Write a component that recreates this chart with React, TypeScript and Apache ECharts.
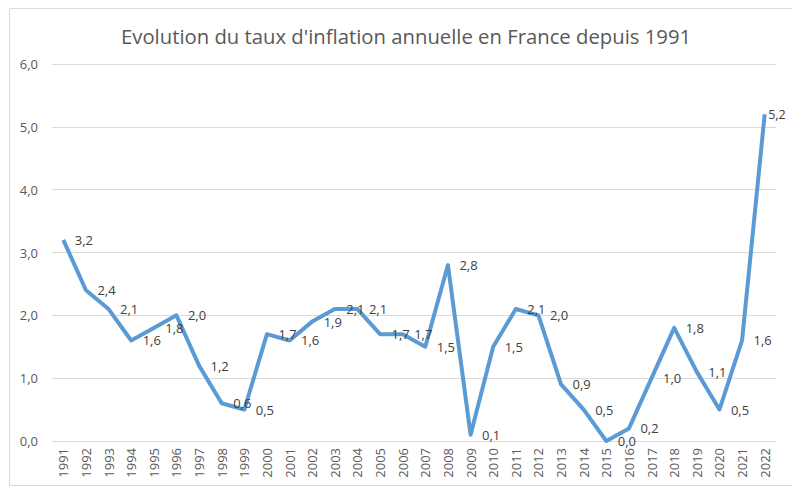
import React, { useEffect, useRef } from "react";
import * as echarts from "echarts";

const years = [
  "1991", "1992", "1993", "1994", "1995", "1996", "1997", "1998", "1999", "2000",
  "2001", "2002", "2003", "2004", "2005", "2006", "2007", "2008", "2009", "2010",
  "2011", "2012", "2013", "2014", "2015", "2016", "2017", "2018", "2019", "2020",
  "2021", "2022",
];
const inflation = [
  3.2, 2.4, 2.1, 1.6, 1.8, 2.0, 1.2, 0.6, 0.5, 1.7,
  1.6, 1.9, 2.1, 2.1, 1.7, 1.7, 1.5, 2.8, 0.1, 1.5,
  2.1, 2.0, 0.9, 0.5, 0.0, 0.2, 1.0, 1.8, 1.1, 0.5,
  1.6, 5.2,
];
const title = "Evolution du taux d'inflation annuelle en France depuis 1991";

const fmt = (v: number) => v.toFixed(1).replace(".", ",");
const FONT = "'Open Sans', 'Noto Sans', sans-serif";

export default function App() {
  const ref = useRef<HTMLDivElement>(null);
  useEffect(() => {
    if (!ref.current) return;
    const chart = echarts.init(ref.current, null, { renderer: "svg" });
    const seriesData = inflation.map((v, i) =>
      i === inflation.length - 1
        ? { value: v, label: { distance: 3, fontSize: 12.5 } }
        : v
    );
    chart.setOption({
      animation: false,
      backgroundColor: "#ffffff",
      title: {
        text: title,
        left: 116,
        top: 21,
        textStyle: { fontFamily: FONT, fontSize: 20.3, fontWeight: "normal", color: "#595959" },
      },
      graphic: [
        {
          type: "rect",
          shape: { x: 9.5, y: 8.5, width: 800, height: 477 },
          style: { fill: "none", stroke: "#d9d9d9", lineWidth: 1 },
          silent: true,
        },
      ],
      grid: { left: 52, right: 16, top: 64, bottom: 47, containLabel: false },
      xAxis: {
        type: "category",
        data: years,
        boundaryGap: true,
        axisLine: { show: false },
        axisTick: { show: false },
        axisLabel: {
          rotate: 90,
          interval: 0,
          margin: 7,
          fontFamily: FONT,
          fontSize: 13,
          color: "#595959",
        },
      },
      yAxis: {
        type: "value",
        min: 0,
        max: 6,
        interval: 1,
        axisLine: { show: false },
        axisTick: { show: false },
        splitLine: { lineStyle: { color: "#d9d9d9", width: 1 } },
        axisLabel: {
          margin: 14,
          formatter: (v: number) => fmt(v),
          fontFamily: FONT,
          fontSize: 13,
          color: "#595959",
        },
      },
      series: [
        {
          type: "line",
          data: seriesData,
          symbol: "circle",
          symbolSize: 1,
          showSymbol: true,
          itemStyle: { color: "rgba(91,155,213,0)" },
          lineStyle: { color: "#5b9bd5", width: 4, join: "round" },
          labelLayout: { hideOverlap: false },
          label: {
            show: true,
            position: "right",
            distance: 11,
            formatter: (p: any) => fmt(p.value),
            fontFamily: FONT,
            fontSize: 13,
            color: "#404040",
          },
        },
      ],
    });
    return () => chart.dispose();
  }, []);
  return (
    <div
      ref={ref}
      style={{ position: "fixed", left: 0, top: 0, width: 792, height: 488 }}
    />
  );
}
